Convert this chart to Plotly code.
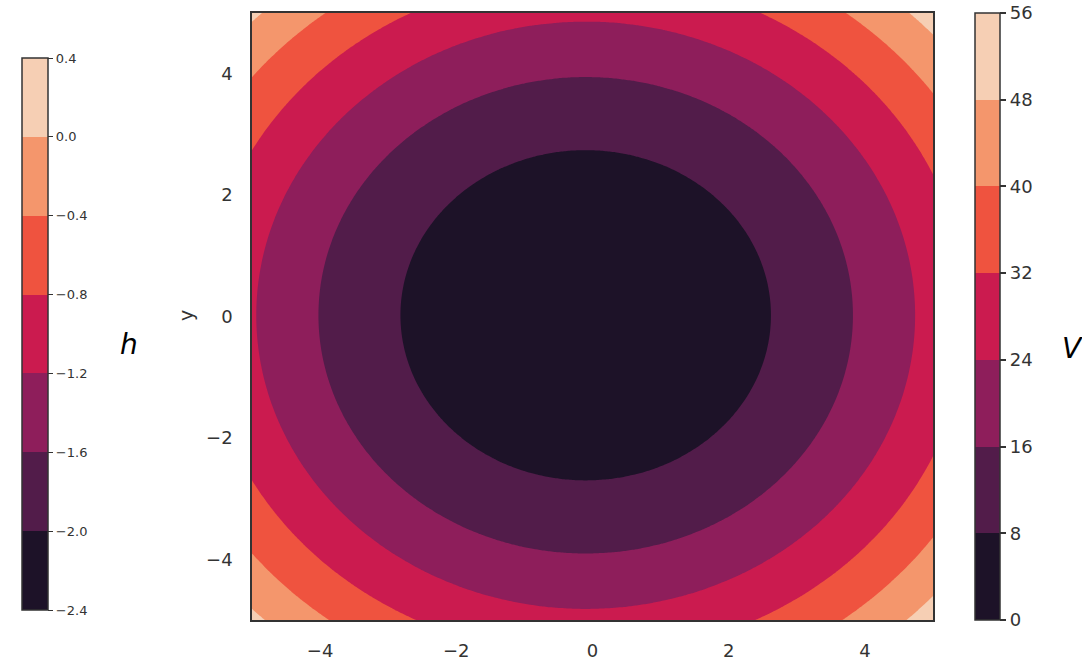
import numpy as np
import plotly.graph_objects as go

# Grid and potential well parameters: V = (x - x0)^2 + (y - y0)^2 + v_min
x_vals = np.linspace(-5, 5, 241)
y_vals = np.linspace(-5, 5, 241)
well_center = (-0.1, 0.02)
v_min = 0.6

X, Y = np.meshgrid(x_vals, y_vals)
V = (X - well_center[0]) ** 2 + (Y - well_center[1]) ** 2 + v_min

# Contour levels for V and tick values for the h scale
v_levels = [0, 8, 16, 24, 32, 40, 48, 56]
h_ticks = [-2.4, -2.0, -1.6, -1.2, -0.8, -0.4, 0.0, 0.4]
x_ticks = [-4, -2, 0, 2, 4]
y_ticks = [-4, -2, 0, 2, 4]

# Seven-step "rocket" palette, dark to light
band_colors = ["#1d1228", "#521c4a", "#8e1e5b", "#cb1b4f",
               "#ef533f", "#f4966c", "#f6cfb4"]


def stepped_scale(colors):
    n = len(colors)
    scale = []
    for i, c in enumerate(colors):
        scale.append([i / n, c])
        scale.append([(i + 1) / n, c])
    return scale


cscale = stepped_scale(band_colors)
W, H = 1082, 661
ink = "#333333"
fam = "DejaVu Sans"


def px_x(p):
    return p / W


def px_y(p):
    return 1 - p / H


fig = go.Figure()

fig.add_trace(go.Contour(
    x=x_vals, y=y_vals, z=V,
    zmin=v_levels[0], zmax=v_levels[-1],
    autocontour=False,
    contours=dict(start=v_levels[0], end=v_levels[-1], size=8, coloring="fill"),
    line=dict(width=0),
    colorscale=cscale,
    colorbar=dict(
        x=px_x(975), xanchor="left", xpad=0, ypad=0,
        y=px_y(316.5), yanchor="middle",
        len=(620 - 13) / H, lenmode="fraction",
        thickness=25, thicknessmode="pixels",
        outlinewidth=1.5, outlinecolor=ink,
        tickmode="array", tickvals=v_levels,
        ticks="outside", ticklen=6, tickwidth=1.5, tickcolor=ink,
        tickfont=dict(family=fam, size=18, color=ink),
    ),
    hoverinfo="skip",
))

# Colour scale for h, drawn from an invisible marker trace
fig.add_trace(go.Scatter(
    x=[0, 0], y=[0, 0], mode="markers",
    marker=dict(
        color=[h_ticks[0], h_ticks[-1]], cmin=h_ticks[0], cmax=h_ticks[-1],
        colorscale=cscale, opacity=0, size=1,
        colorbar=dict(
            x=px_x(22), xanchor="left", xpad=0, ypad=0,
            y=px_y(334), yanchor="middle",
            len=(610 - 58) / H, lenmode="fraction",
            thickness=26, thicknessmode="pixels",
            outlinewidth=1.5, outlinecolor=ink,
            tickmode="array", tickvals=h_ticks, tickformat=".1f",
            ticks="outside", ticklen=5, tickwidth=1.2, tickcolor=ink,
            tickfont=dict(family=fam, size=13, color=ink),
        ),
    ),
    hoverinfo="skip", showlegend=False,
))

axis_common = dict(
    showline=True, linecolor=ink, linewidth=1.5, mirror=True,
    showgrid=False, zeroline=False, ticks="",
    tickfont=dict(family=fam, size=18, color=ink),
)

fig.update_layout(
    width=W, height=H,
    margin=dict(l=0, r=0, t=0, b=0),
    paper_bgcolor="white", plot_bgcolor="white",
    showlegend=False,
    xaxis=dict(domain=[px_x(252), px_x(933)], range=[-5, 5],
               tickvals=x_ticks, ticklabelstandoff=14, **axis_common),
    yaxis=dict(domain=[px_y(620), px_y(13)], range=[-5, 5],
               tickvals=y_ticks, ticklabelstandoff=14, **axis_common),
    annotations=[
        dict(text="<i>h</i>", x=px_x(128.5), y=px_y(344), xref="paper", yref="paper",
             xanchor="center", yanchor="middle", showarrow=False,
             font=dict(family=fam, size=28, color="black")),
        dict(text="<i>V</i>", x=px_x(1060), y=px_y(348), xref="paper", yref="paper",
             xanchor="left", yanchor="middle", showarrow=False,
             font=dict(family=fam, size=28, color="black")),
        dict(text="y", x=px_x(186), y=px_y(316), xref="paper", yref="paper",
             xanchor="center", yanchor="middle", textangle=-90, showarrow=False,
             font=dict(family=fam, size=19, color=ink)),
    ],
)

fig.write_html("out.html")
